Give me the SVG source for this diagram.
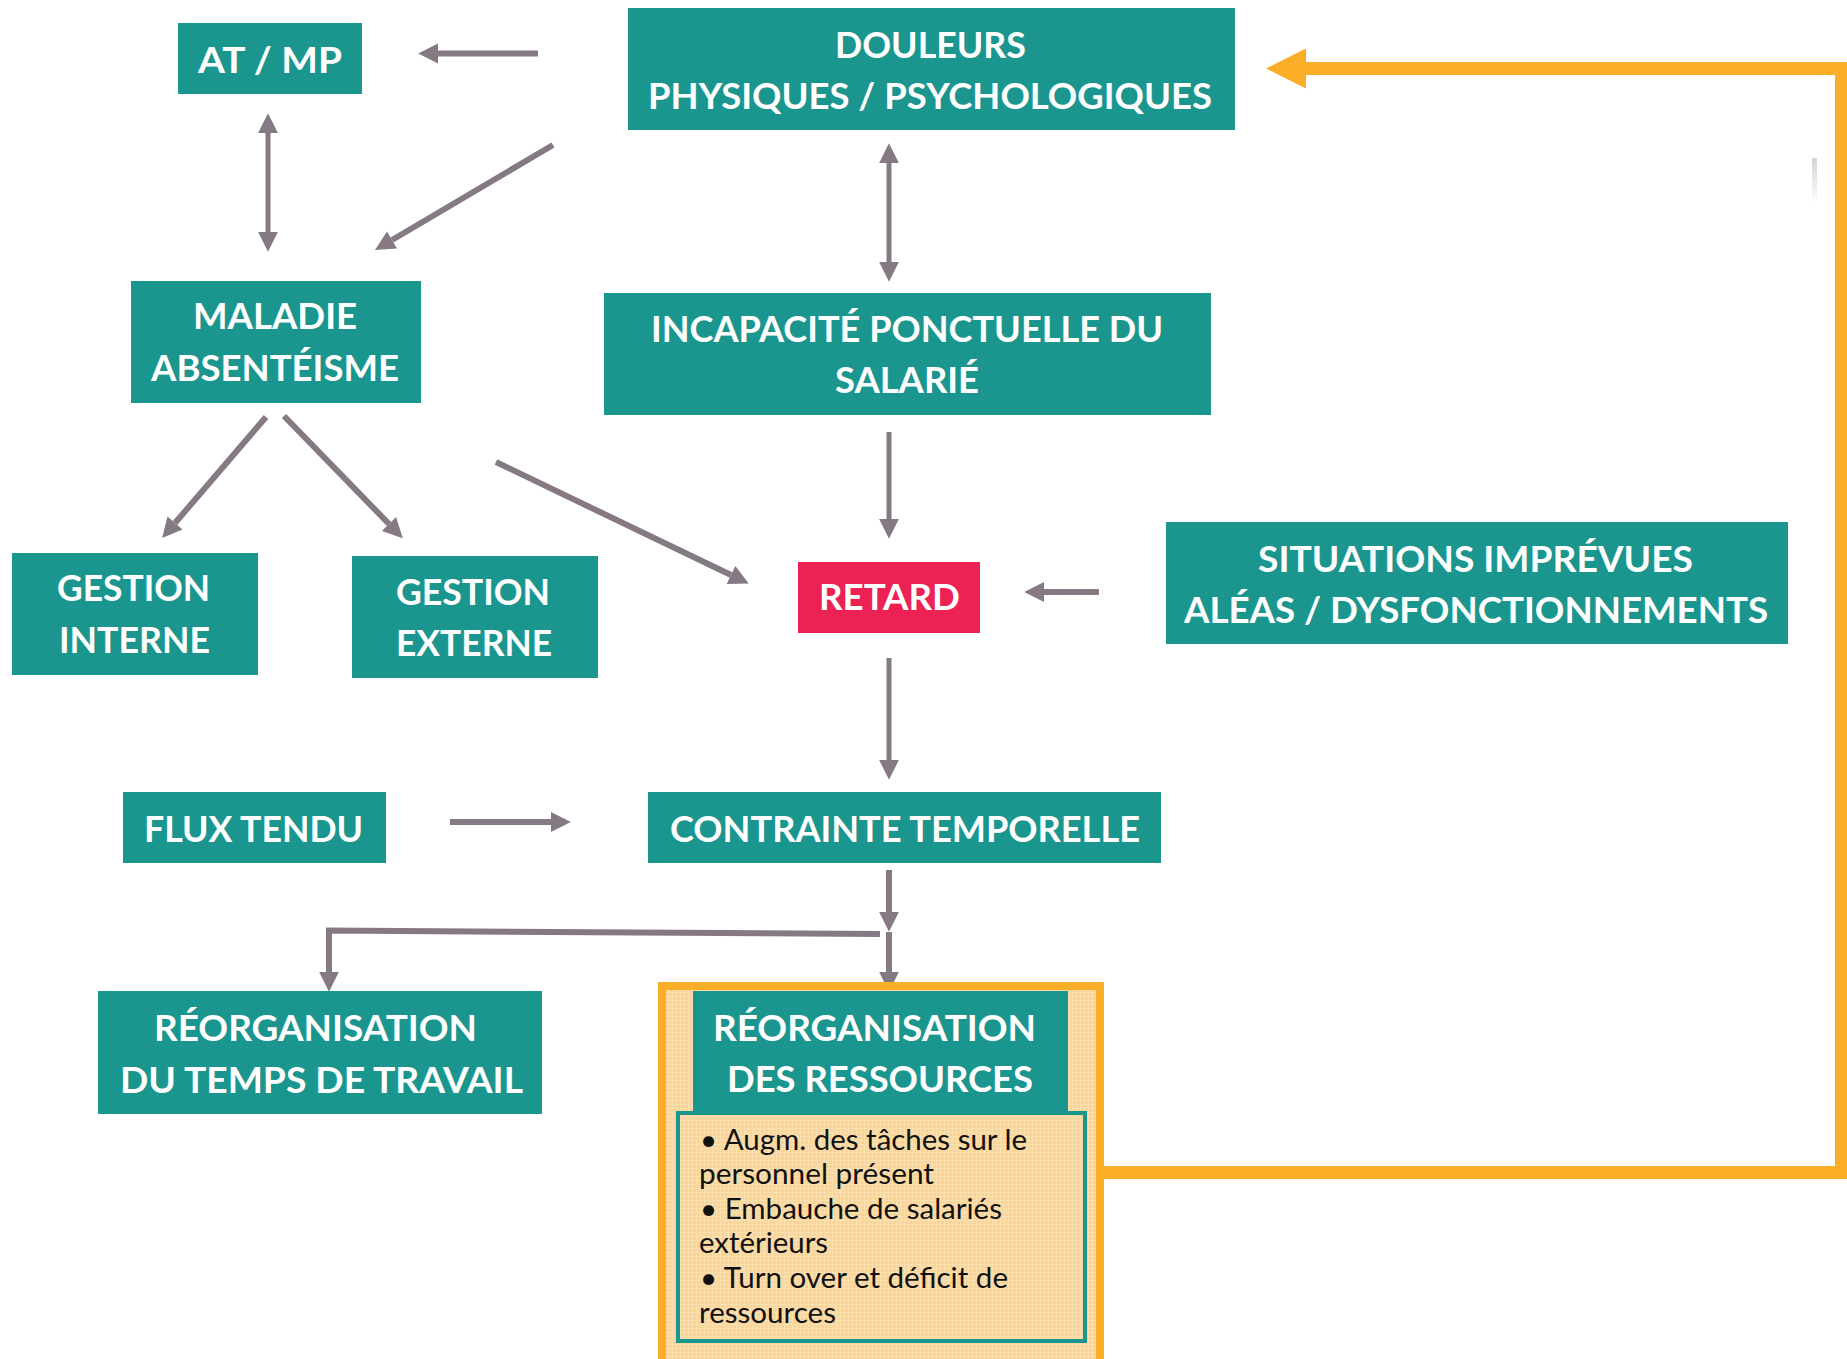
<svg xmlns="http://www.w3.org/2000/svg" width="1847" height="1359" viewBox="0 0 1847 1359">
  <style>
    .box { fill: #1B968F; }
    .red { fill: #EC2255; }
    .t { font-family: Lato, "Open Sans", "Liberation Sans", sans-serif; font-weight: 700; font-size: 36px; fill: #FFFFFF; }
    .b { font-family: Lato, "Open Sans", "Liberation Sans", sans-serif; font-weight: 400; font-size: 28px; fill: #111111; }
    .ln { fill: none; stroke: #857A84; stroke-width: 6; }
    .ln5 { fill: none; stroke: #857A84; stroke-width: 5; }
    .loop { fill: none; stroke: #FBAF29; stroke-width: 13; stroke-linejoin: miter; }
  </style>
  <defs>
    <marker id="ah" markerUnits="userSpaceOnUse" markerWidth="22" markerHeight="22" viewBox="0 -10 20 20" refX="0" refY="0" orient="auto-start-reverse" overflow="visible">
      <path d="M0,-9 L18,0 L0,9 z" fill="#857A84"/>
    </marker>
    <marker id="ahO" markerUnits="userSpaceOnUse" markerWidth="44" markerHeight="44" viewBox="0 -22 42 44" refX="0" refY="0" orient="auto" overflow="visible">
      <path d="M0,-20 L40,0 L0,20 z" fill="#FBAF29"/>
    </marker>
    <pattern id="grain" width="4" height="4" patternUnits="userSpaceOnUse">
      <rect width="4" height="4" fill="#FBD597"/>
      <path d="M0,0.5 H4 M0.5,0 V4" stroke="#FDE4B8" stroke-width="1" opacity="0.7"/>
    </pattern>
    <linearGradient id="smudge" x1="0" y1="0" x2="0" y2="1">
      <stop offset="0" stop-color="#D4D4D4"/>
      <stop offset="1" stop-color="#FFFFFF"/>
    </linearGradient>
  </defs>

  <!-- connectors -->
  <g id="connectors">
    <line class="ln" x1="538" y1="53.5" x2="438" y2="53.5" marker-end="url(#ah)"/>
    <line class="ln5" x1="268" y1="133" x2="268" y2="232" marker-start="url(#ah)" marker-end="url(#ah)"/>
    <line class="ln" x1="553" y1="145" x2="392" y2="240" marker-end="url(#ah)"/>
    <line class="ln5" x1="889" y1="163" x2="889" y2="262" marker-start="url(#ah)" marker-end="url(#ah)"/>
    <line class="ln" x1="266" y1="417" x2="175" y2="523" marker-end="url(#ah)"/>
    <line class="ln" x1="284" y1="416" x2="389" y2="524" marker-end="url(#ah)"/>
    <line class="ln" x1="496" y1="462" x2="731" y2="575" marker-end="url(#ah)"/>
    <line class="ln5" x1="889" y1="432" x2="889" y2="519" marker-end="url(#ah)"/>
    <line class="ln" x1="1099" y1="592" x2="1044" y2="592" marker-end="url(#ah)"/>
    <line class="ln5" x1="889" y1="658" x2="889" y2="760" marker-end="url(#ah)"/>
    <line class="ln" x1="450" y1="822" x2="551" y2="822" marker-end="url(#ah)"/>
    <line class="ln" x1="889" y1="870" x2="889" y2="912" marker-end="url(#ah)"/>
    <line class="ln" x1="889" y1="932" x2="889" y2="972" marker-end="url(#ah)"/>
    <polyline class="ln" points="880,934 329,930.5 329,972" marker-end="url(#ah)"/>
    <polyline class="loop" points="1104,1172.5 1841.5,1172.5 1841.5,68.5 1306,68.5" marker-end="url(#ahO)"/>
  </g>

  <rect x="1812" y="158" width="5" height="46" fill="url(#smudge)"/>

  <g id="douleurs">
    <rect class="box" x="628" y="8" width="607" height="122"/>
    <text class="t" x="835" y="58" textLength="191" lengthAdjust="spacingAndGlyphs">DOULEURS</text>
    <text class="t" x="648" y="109" textLength="564" lengthAdjust="spacingAndGlyphs">PHYSIQUES / PSYCHOLOGIQUES</text>
  </g>

  <g id="at-mp">
    <rect class="box" x="178" y="23" width="184" height="71"/>
    <text class="t" x="198" y="73" textLength="144" lengthAdjust="spacingAndGlyphs">AT / MP</text>
  </g>

  <g id="maladie">
    <rect class="box" x="131" y="281" width="290" height="122"/>
    <text class="t" x="193" y="329" textLength="164" lengthAdjust="spacingAndGlyphs">MALADIE</text>
    <text class="t" x="151" y="381" textLength="248" lengthAdjust="spacingAndGlyphs">ABSENTÉISME</text>
  </g>

  <g id="incapacite">
    <rect class="box" x="604" y="293" width="607" height="122"/>
    <text class="t" x="651" y="342" textLength="512" lengthAdjust="spacingAndGlyphs">INCAPACITÉ PONCTUELLE DU</text>
    <text class="t" x="835" y="393" textLength="144" lengthAdjust="spacingAndGlyphs">SALARIÉ</text>
  </g>

  <g id="gestion-interne">
    <rect class="box" x="12" y="553" width="246" height="122"/>
    <text class="t" x="57" y="601" textLength="153" lengthAdjust="spacingAndGlyphs">GESTION</text>
    <text class="t" x="59" y="653" textLength="151" lengthAdjust="spacingAndGlyphs">INTERNE</text>
  </g>

  <g id="gestion-externe">
    <rect class="box" x="352" y="556" width="246" height="122"/>
    <text class="t" x="396" y="605" textLength="154" lengthAdjust="spacingAndGlyphs">GESTION</text>
    <text class="t" x="396" y="656" textLength="156" lengthAdjust="spacingAndGlyphs">EXTERNE</text>
  </g>

  <g id="retard">
    <rect class="red" x="798" y="562" width="182" height="71"/>
    <text class="t" x="819" y="610" textLength="141" lengthAdjust="spacingAndGlyphs">RETARD</text>
  </g>

  <g id="situations">
    <rect class="box" x="1166" y="522" width="622" height="122"/>
    <text class="t" x="1258" y="572" textLength="435" lengthAdjust="spacingAndGlyphs">SITUATIONS IMPRÉVUES</text>
    <text class="t" x="1184" y="623" textLength="584" lengthAdjust="spacingAndGlyphs">ALÉAS / DYSFONCTIONNEMENTS</text>
  </g>

  <g id="flux-tendu">
    <rect class="box" x="123" y="792" width="263" height="71"/>
    <text class="t" x="144" y="842" textLength="219" lengthAdjust="spacingAndGlyphs">FLUX TENDU</text>
  </g>

  <g id="contrainte">
    <rect class="box" x="648" y="792" width="513" height="71"/>
    <text class="t" x="670" y="842" textLength="470" lengthAdjust="spacingAndGlyphs">CONTRAINTE TEMPORELLE</text>
  </g>

  <g id="reorg-temps">
    <rect class="box" x="98" y="991" width="444" height="123"/>
    <text class="t" x="154" y="1041" textLength="323" lengthAdjust="spacingAndGlyphs">RÉORGANISATION</text>
    <text class="t" x="120" y="1093" textLength="403" lengthAdjust="spacingAndGlyphs">DU TEMPS DE TRAVAIL</text>
  </g>

  <g id="reorg-ressources">
    <rect x="662" y="986" width="438" height="420" fill="url(#grain)" stroke="#FBAF29" stroke-width="8"/>
    <rect x="678" y="1113" width="407" height="228" fill="url(#grain)" stroke="#1B968F" stroke-width="4"/>
    <rect class="box" x="693" y="991" width="375" height="121"/>
    <text class="t" x="713" y="1041" textLength="323" lengthAdjust="spacingAndGlyphs">RÉORGANISATION</text>
    <text class="t" x="727" y="1092" textLength="306" lengthAdjust="spacingAndGlyphs">DES RESSOURCES</text>
    <text class="b" x="700" y="1150" textLength="327" lengthAdjust="spacingAndGlyphs">• Augm. des tâches sur le</text>
    <text class="b" x="699" y="1184" textLength="235" lengthAdjust="spacingAndGlyphs">personnel présent</text>
    <text class="b" x="700" y="1219" textLength="302" lengthAdjust="spacingAndGlyphs">• Embauche de salariés</text>
    <text class="b" x="699" y="1253" textLength="129" lengthAdjust="spacingAndGlyphs">extérieurs</text>
    <text class="b" x="700" y="1288" textLength="308" lengthAdjust="spacingAndGlyphs">• Turn over et déficit de</text>
    <text class="b" x="699" y="1323" textLength="137" lengthAdjust="spacingAndGlyphs">ressources</text>
  </g>
</svg>
